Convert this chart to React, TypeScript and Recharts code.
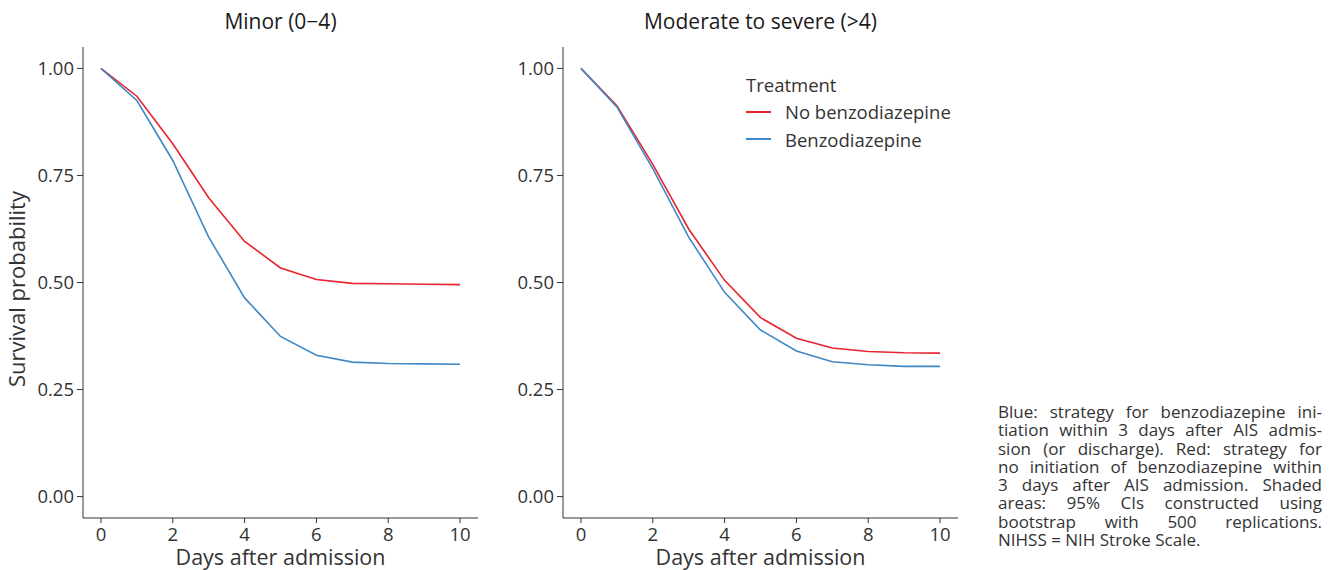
import { LineChart, Line, XAxis, YAxis } from "recharts";

const days = [0, 1, 2, 3, 4, 5, 6, 7, 8, 9, 10];

const minorNoBenzo = [1.0, 0.935, 0.824, 0.698, 0.596, 0.534, 0.507, 0.498, 0.497, 0.496, 0.495];
const minorBenzo = [1.0, 0.925, 0.785, 0.606, 0.464, 0.374, 0.33, 0.314, 0.311, 0.31, 0.309];

const severeNoBenzo = [1.0, 0.913, 0.776, 0.625, 0.505, 0.418, 0.37, 0.347, 0.339, 0.336, 0.335];
const severeBenzo = [1.0, 0.91, 0.766, 0.606, 0.477, 0.389, 0.34, 0.315, 0.308, 0.304, 0.304];

const xTicks = [0, 2, 4, 6, 8, 10];
const yTicks = [0, 0.25, 0.5, 0.75, 1];

const RED = "#e8232d";
const BLUE = "#3f88c5";
const INK = "#333333";
const FONT = "'Open Sans', sans-serif";

const seriesInfo = [
  { key: "noBenzo", label: "No benzodiazepine", color: RED },
  { key: "benzo", label: "Benzodiazepine", color: BLUE },
];

// caption is set line by line so the justified breaks match the figure
const captionLines = [
  "Blue: strategy for benzodiazepine ini-",
  "tiation within 3 days after AIS admis-",
  "sion (or discharge). Red: strategy for",
  "no initiation of benzodiazepine within",
  "3 days after AIS admission. Shaded",
  "areas: 95% CIs constructed using",
  "bootstrap with 500 replications.",
  "NIHSS = NIH Stroke Scale.",
];

const buildRows = (noBenzo: number[], benzo: number[]) =>
  days.map((day, i) => ({ day, noBenzo: noBenzo[i], benzo: benzo[i] }));

const TreatmentLegend = () => (
  <div style={{ position: "absolute", left: 746, top: 71, fontFamily: FONT, color: INK, fontSize: 18.5 }}>
    <div style={{ lineHeight: "27px" }}>Treatment</div>
    {seriesInfo.map((s) => (
      <div key={s.key} style={{ display: "flex", alignItems: "center", lineHeight: "27.5px" }}>
        <span style={{ width: 25, height: 1.6, background: s.color, marginRight: 14 }} />
        <span>{s.label}</span>
      </div>
    ))}
  </div>
);

const YTitle = () => (
  <text
    x={0}
    y={0}
    transform="translate(25, 289) rotate(-90)"
    textAnchor="middle"
    fontSize={22}
    fill={INK}
    fontFamily={FONT}
  >
    Survival probability
  </text>
);

interface PanelProps {
  title: string;
  left: number;
  noBenzo: number[];
  benzo: number[];
  showYLabel?: boolean;
}

const Panel = ({ title, left, noBenzo, benzo, showYLabel }: PanelProps) => {
  const data = buildRows(noBenzo, benzo);
  const tickStyle = { fontSize: 18.5, fill: INK, fontFamily: FONT };
  return (
    <div style={{ position: "absolute", left, top: 0, width: 480, height: 570 }}>
      <div
        style={{
          position: "absolute",
          top: 7,
          left: 83,
          width: 395,
          textAlign: "center",
          fontFamily: FONT,
          fontSize: 21,
          lineHeight: "normal",
          color: "#1a1a1a",
        }}
      >
        {title}
      </div>
      <LineChart width={480} height={570} data={data} margin={{ top: 47, right: 2, bottom: 0, left: 0 }}>
        <XAxis
          dataKey="day"
          type="number"
          domain={[-0.5, 10.5]}
          ticks={xTicks}
          height={52}
          tickSize={5}
          tickMargin={5}
          stroke={INK}
          tick={tickStyle}
          label={{ value: "Days after admission", position: "insideBottom", offset: 5, fontSize: 21.5, fill: INK, fontFamily: FONT }}
        />
        <YAxis
          type="number"
          domain={[-0.05, 1.05]}
          ticks={yTicks}
          width={83}
          tickSize={6}
          tickMargin={3}
          stroke={INK}
          tick={tickStyle}
          tickFormatter={(v: number) => v.toFixed(2)}
          label={showYLabel ? () => <YTitle /> : undefined}
        />
        {seriesInfo.map((s) => (
          <Line
            key={s.key}
            dataKey={s.key}
            type="linear"
            stroke={s.color}
            strokeWidth={1.6}
            dot={false}
            isAnimationActive={false}
          />
        ))}
      </LineChart>
    </div>
  );
};

export default function App() {
  return (
    <div style={{ position: "absolute", left: 0, top: 0, width: 1336, height: 570, background: "#fff" }}>
      <Panel title="Minor (0−4)" left={0} noBenzo={minorNoBenzo} benzo={minorBenzo} showYLabel />
      <Panel title="Moderate to severe (>4)" left={480} noBenzo={severeNoBenzo} benzo={severeBenzo} />
      <TreatmentLegend />
      <div
        style={{
          position: "absolute",
          left: 998,
          top: 403,
          width: 324,
          fontFamily: FONT,
          fontSize: 17,
          lineHeight: "18.3px",
          color: "#333",
        }}
      >
        {captionLines.map((line, i) => (
          <div
            key={i}
            style={{
              whiteSpace: "nowrap",
              textAlign: "justify",
              textAlignLast: i === captionLines.length - 1 ? "left" : "justify",
            }}
          >
            {line}
          </div>
        ))}
      </div>
    </div>
  );
}
